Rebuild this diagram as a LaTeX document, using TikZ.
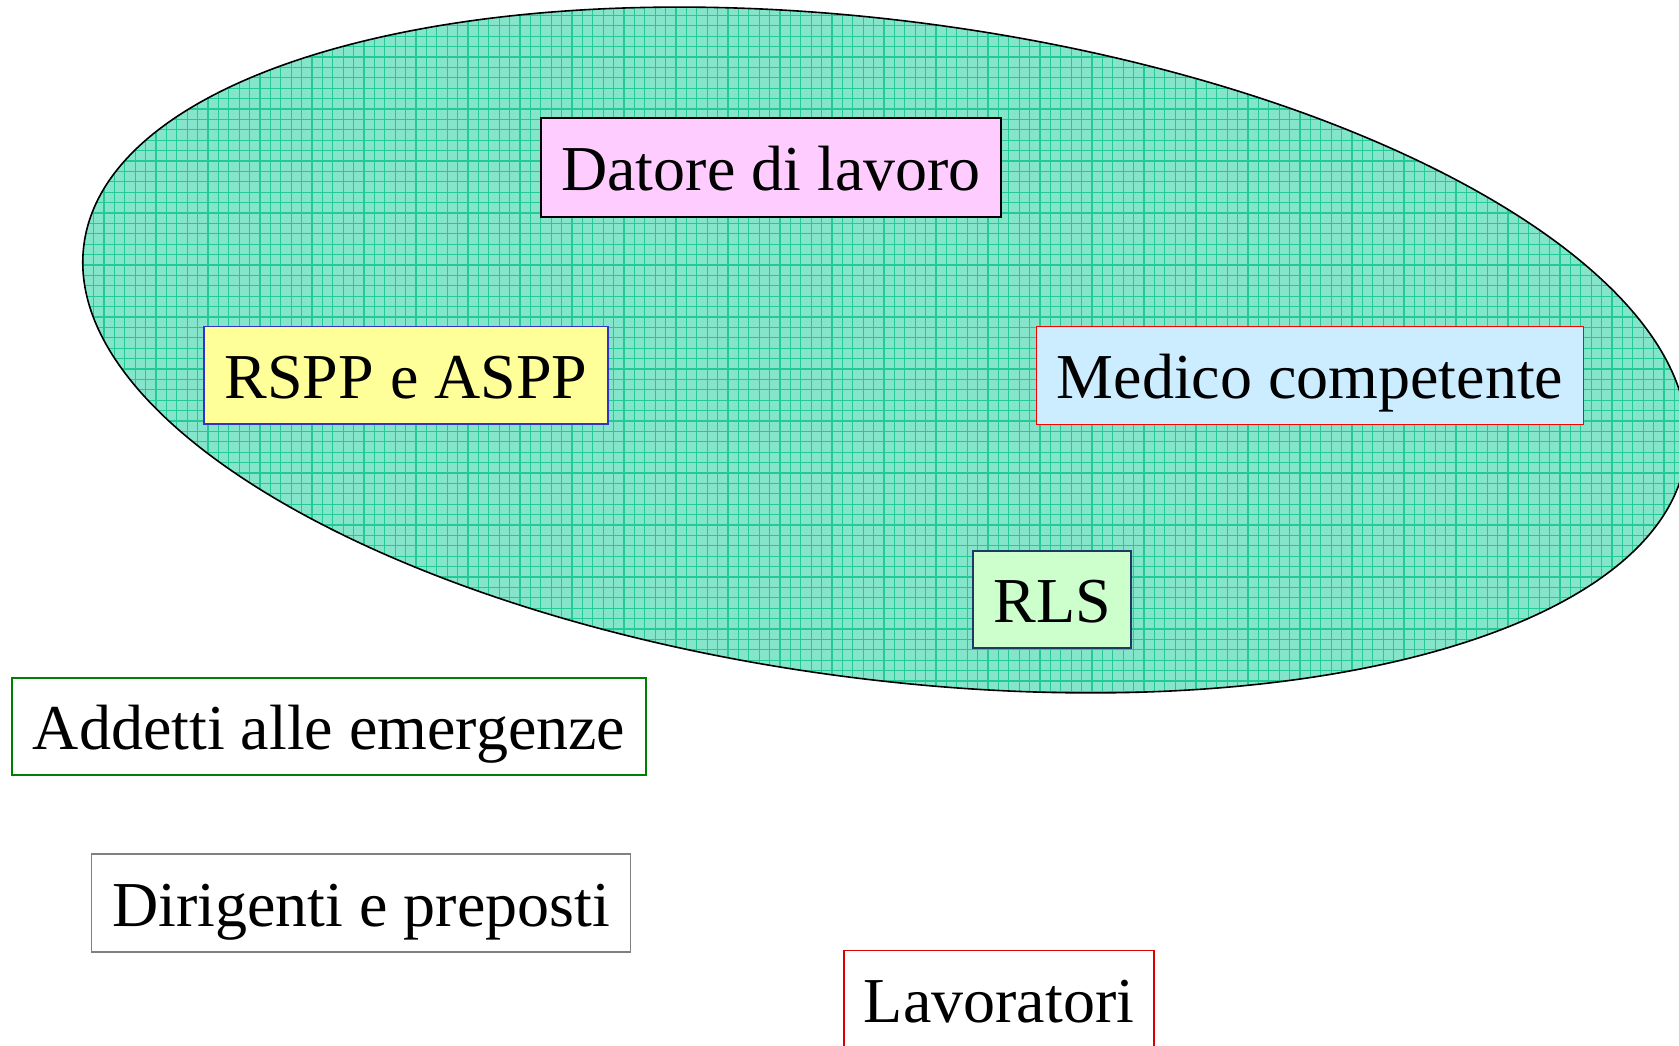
\documentclass[tikz,border=0pt]{standalone}
\usepackage{fontspec}
\setmainfont{Liberation Serif}
\definecolor{ellfill}{RGB}{132,229,202}
\definecolor{ellgrid}{RGB}{36,202,150}
\definecolor{pinkf}{RGB}{255,204,255}
\definecolor{yellowf}{RGB}{255,255,153}
\definecolor{bluef}{RGB}{204,236,255}
\definecolor{greenf}{RGB}{204,255,204}
\definecolor{bblue}{RGB}{51,51,204}
\definecolor{bnavy}{RGB}{31,56,100}
\definecolor{bgreen}{RGB}{0,128,0}
\definecolor{bgray}{RGB}{128,128,128}
\tikzset{
  rolebox/.style={draw, rectangle, line width=1.6pt, inner sep=0pt,
    text height=46pt, text depth=0pt,
    font=\fontsize{64}{76}\selectfont}
}
\begin{document}
\begin{tikzpicture}[x=1pt,y=1pt]
\useasboundingbox (0,0) rectangle (1679,1045);
\clip (0,0) rectangle (1679,1045);
% ellipse with grid pattern
\begin{scope}
  \clip[rotate around={-7.5:(885,695)}] (885,695) ellipse [x radius=808pt, y radius=329pt];
  \fill[ellfill] (0,0) rectangle (1679,1045);
  \draw[ellgrid, line width=1.1pt, step=10.4] (0,300) grid (1679,1045);
\end{scope}
\draw[line width=1.6pt, rotate around={-7.5:(885,695)}] (885,695) ellipse [x radius=808pt, y radius=329pt];
% boxes
\node[rolebox, fill=pinkf, draw=black, minimum width=460pt, minimum height=99pt] (datore) at (771,877.5) {Datore di lavoro};
\node[rolebox, fill=yellowf, draw=bblue, minimum width=403.5pt, minimum height=97.4pt] (rspp) at (406,669.7) {RSPP e ASPP};
\node[rolebox, fill=bluef, draw=red, minimum width=547pt, minimum height=98pt] (medico) at (1310,669.4) {Medico competente};
\node[rolebox, fill=greenf, draw=bnavy, minimum width=158pt, minimum height=97pt] (rls) at (1052,445.5) {RLS};
\node[rolebox, fill=white, draw=bgreen, minimum width=634pt, minimum height=97.5pt] (addetti) at (329,318.5) {Addetti alle emergenze};
\node[rolebox, fill=white, draw=bgray, minimum width=539pt, minimum height=97.5pt] (dirigenti) at (361,142) {Dirigenti e preposti};
\node[rolebox, fill=white, draw=red!85!black, minimum width=310pt, minimum height=97.5pt] (lavoratori) at (999,45.6) {Lavoratori};
\end{tikzpicture}
\end{document}
